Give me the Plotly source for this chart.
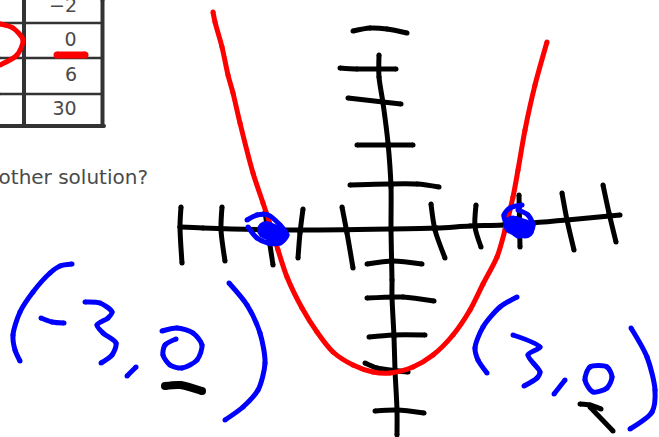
"""Hand-drawn parabola sketch over a cropped worksheet table."""

import plotly.graph_objects as go

BLACK = "#000000"
RED = "#ff0000"
BLUE = "#0000ff"
TABLE = "#333333"
TEXT = "#4a4a4a"

# Strokes as (x, y) pairs
axis_x = [(180, 227), (203, 228), (280, 230), (390, 229), (437, 228), (470, 226), (503, 225), (567, 220), (620, 215)]
axis_y = [(379, 55), (379, 77), (383, 103), (388, 143), (391, 187), (391, 230), (392, 280), (392, 297), (394, 337), (395, 370), (397, 410), (397, 435)]

ticks_y = [
    [(353, 31), (370, 28), (387, 29), (407, 33)],
    [(340, 68), (357, 69), (396, 69)],
    [(348, 98), (383, 102), (401, 104)],
    [(357, 145), (413, 145)],
    [(350, 185), (417, 184), (439, 187)],
    [(367, 264), (393, 261), (422, 264)],
    [(367, 298), (403, 297), (434, 301)],
    [(369, 337), (393, 335), (425, 335)],
    [(365, 363), (377, 368), (408, 372)],
    [(375, 411), (397, 410), (424, 413)],
]
ticks_x = [
    [(181, 207), (180, 227), (182, 263)],
    [(222, 207), (221, 230), (225, 261)],
    [(265, 212), (273, 265)],
    [(303, 209), (300, 233), (298, 258)],
    [(342, 207), (347, 233), (353, 268)],
    [(431, 204), (435, 230), (445, 258)],
    [(476, 205), (475, 227), (481, 247)],
    [(519, 195), (520, 247)],
    [(562, 193), (567, 220), (574, 250)],
    [(603, 185), (609, 213), (616, 242)],
]

parabola = [
    (213, 12), (215, 22), (222, 47), (228, 75), (233, 93), (240, 123), (253, 173), (263, 203),
    (273, 233), (278, 250), (287, 277), (302, 308), (317, 332), (333, 352), (353, 365),
    (373, 372), (390, 373), (413, 367), (433, 355), (453, 335), (470, 310), (483, 284),
    (497, 257), (505, 230), (513, 197), (518, 170), (525, 130), (535, 85), (547, 42),
]
table_circle = [(0, 24), (13, 28), (23, 40), (17, 55), (0, 65)]
table_underline = [(57, 55), (85, 55)]

left_dot_ring = [(247, 220), (257, 215), (268, 215), (280, 225), (287, 235), (280, 243), (268, 243), (257, 238), (248, 227)]
left_dot_fill = [(266, 230), (278, 235)]
right_dot_ring = [(522, 205), (510, 208), (504, 215), (508, 226), (518, 236), (530, 232), (533, 225), (528, 215), (518, 210)]
right_dot_fill = [(513, 225), (525, 229)]

left_open = [(72, 264), (60, 266), (50, 273), (33, 292), (20, 312), (13, 335), (15, 350), (20, 361)]
left_minus = [(41, 318), (52, 322), (64, 323)]
left_three = [(85, 302), (100, 303), (112, 312), (108, 318), (97, 325), (103, 333), (116, 343), (112, 355), (101, 363)]
left_comma = [(136, 367), (127, 376)]
left_zero = [(162, 331), (177, 328), (193, 333), (202, 345), (197, 360), (182, 368), (170, 365), (163, 355), (165, 345), (176, 339)]
left_close = [(229, 283), (247, 305), (260, 333), (265, 363), (258, 390), (243, 407), (225, 420)]
left_underline = [(165, 386), (180, 385), (202, 391)]

right_open = [(517, 297), (500, 307), (483, 327), (475, 348), (478, 360), (487, 373)]
right_three = [(513, 335), (540, 347), (528, 355), (540, 372), (537, 378), (524, 386)]
right_comma = [(565, 380), (554, 394)]
right_zero = [(590, 367), (607, 367), (612, 377), (607, 388), (593, 392), (585, 380), (590, 367)]
right_close = [(631, 328), (647, 357), (655, 390), (652, 412), (630, 429)]
right_mark = [(580, 404), (590, 405), (601, 409)]
right_arrow = [(590, 407), (613, 431)]

# Worksheet table
table_heavy = [[(24, 0), (24, 126)], [(102.5, 0), (102.5, 126)], [(0, 126), (104, 126)]]
table_thin = [[(0, 23), (102, 23)], [(0, 58), (102, 58)], [(0, 94), (102, 94)]]
cell_labels = ["\u22122", "0", "6", "30"]
cell_x = [63, 70.5, 71, 64.5]
cell_y = [7, 41, 76, 110]
question_text = "other solution?"


def add_stroke(fig, points, colour, width, smooth=True):
    # markers at the same width give the pen its round ends
    xs, ys = zip(*points)
    fig.add_trace(
        go.Scatter(
            x=xs,
            y=ys,
            mode="lines+markers",
            line=dict(
                color=colour,
                width=width,
                shape="spline" if smooth else "linear",
                smoothing=0.8,
            ),
            marker=dict(color=colour, size=width, line=dict(width=0)),
            hoverinfo="skip",
        )
    )


fig = go.Figure()

for points in table_heavy:
    add_stroke(fig, points, TABLE, 4, smooth=False)
for points in table_thin:
    add_stroke(fig, points, TABLE, 2.5, smooth=False)

fig.add_trace(
    go.Scatter(
        x=cell_x,
        y=cell_y,
        mode="text",
        text=cell_labels,
        textfont=dict(family="DejaVu Sans", size=19, color=TEXT),
        hoverinfo="skip",
    )
)
fig.add_trace(
    go.Scatter(
        x=[148],
        y=[178.5],
        mode="text",
        text=[question_text],
        textposition="middle left",
        textfont=dict(family="DejaVu Sans", size=20, color=TEXT),
        hoverinfo="skip",
        cliponaxis=False,
    )
)

for points in [axis_x, axis_y] + ticks_x + ticks_y + [right_mark, right_arrow]:
    add_stroke(fig, points, BLACK, 5)
add_stroke(fig, left_underline, BLACK, 8)

add_stroke(fig, parabola, RED, 5)
add_stroke(fig, table_circle, RED, 5)
add_stroke(fig, table_underline, RED, 7)

for points in [left_open, left_minus, left_three, left_comma, left_zero, left_close,
               right_open, right_three, right_comma, right_zero, right_close,
               left_dot_ring, right_dot_ring]:
    add_stroke(fig, points, BLUE, 5)
add_stroke(fig, left_dot_fill, BLUE, 18)
add_stroke(fig, right_dot_fill, BLUE, 19)

fig.update_layout(
    width=659,
    height=437,
    margin=dict(l=0, r=0, t=0, b=0),
    paper_bgcolor="white",
    plot_bgcolor="white",
    showlegend=False,
    xaxis=dict(range=[0, 659], visible=False, fixedrange=True),
    yaxis=dict(range=[437, 0], visible=False, fixedrange=True),
)

fig.write_html(
    "out.html",
    config=dict(displayModeBar=False),
    post_script="document.body.style.margin = '0';",
)
